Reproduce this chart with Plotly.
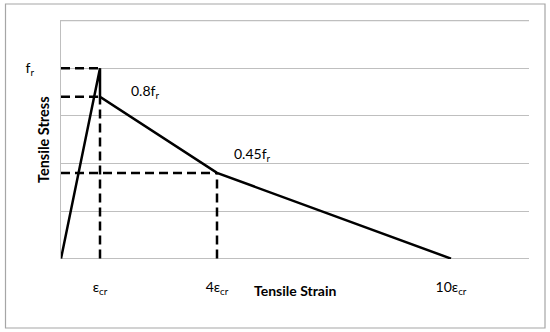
import plotly.graph_objects as go

# Data (strain in multiples of eps_cr, stress in multiples of f_r)
strain = [0, 1, 1, 4, 10]
stress = [0, 1.0, 0.85, 0.45, 0]

# Reference (dashed) guide points
guide_pts_x = [1, 1, 4]
guide_pts_y = [1.0, 0.85, 0.45]

y_tickvals = [0, 0.25, 0.5, 0.75, 1.0, 1.25]
y_ticktext = ["", "", "", "", "f<sub>r</sub>", ""]
x_tickvals = [1, 4, 10]
x_ticktext = ["ε<sub>cr</sub>", "4ε<sub>cr</sub>", "10ε<sub>cr</sub>"]

point_labels = ["0.8f<sub>r</sub>", "0.45f<sub>r</sub>"]
label_x = [2.15, 4.9]
label_y = [0.88, 0.545]

FONT = "Lato, Open Sans, sans-serif"
GRID = "#bfbfbf"

fig = go.Figure()

dash = dict(color="black", width=2.5, dash="9px,5px")
# horizontal dashed guides
for gx, gy in zip(guide_pts_x, guide_pts_y):
    fig.add_trace(go.Scatter(x=[0, gx], y=[gy, gy], mode="lines", line=dash,
                             showlegend=False, hoverinfo="skip"))
# vertical dashed guides
fig.add_trace(go.Scatter(x=[guide_pts_x[1], guide_pts_x[1]], y=[0, guide_pts_y[1]],
                         mode="lines", line=dash, showlegend=False, hoverinfo="skip"))
fig.add_trace(go.Scatter(x=[guide_pts_x[2], guide_pts_x[2]], y=[0, guide_pts_y[2]],
                         mode="lines", line=dash, showlegend=False, hoverinfo="skip"))

fig.add_trace(go.Scatter(x=strain, y=stress, mode="lines",
                         line=dict(color="black", width=2.5),
                         showlegend=False, hoverinfo="skip"))

for t, lx, ly in zip(point_labels, label_x, label_y):
    fig.add_annotation(x=lx, y=ly, text=t, showarrow=False, xanchor="center",
                       font=dict(size=14, color="black", family=FONT))

fig.add_annotation(xref="paper", yref="paper", x=(295 - 61) / 468, y=(259 - 301) / 239,
                   text="<b>Tensile Strain</b>", showarrow=False,
                   font=dict(size=14, color="black", family=FONT))
fig.add_annotation(xref="paper", yref="paper", x=(33 - 61) / 468, y=0.5,
                   text="<b>Tensile Stress</b>", showarrow=False, textangle=-90,
                   font=dict(size=14.5, color="black", family=FONT))

# edge gridlines (first and last tick values)
for gv in (y_tickvals[0], y_tickvals[-1]):
    fig.add_shape(type="line", xref="paper", yref="y", x0=0, x1=1, y0=gv, y1=gv,
                  line=dict(color=GRID, width=1.2), layer="below")

# outer chart border
fig.add_shape(type="rect", xref="paper", yref="paper",
              x0=(5.5 - 61) / 468, x1=(545 - 61) / 468,
              y0=(259 - 328) / 239, y1=(259 - 4) / 239,
              line=dict(color="#a6a6a6", width=1.2), layer="below")

fig.update_layout(
    width=550, height=332,
    margin=dict(l=61, r=21, t=20, b=73, autoexpand=False),
    paper_bgcolor="white", plot_bgcolor="white",
    font=dict(family=FONT, size=14, color="black"),
    xaxis=dict(range=[0, 12], tickvals=x_tickvals, ticktext=x_ticktext,
               showgrid=False, zeroline=False, showline=False, automargin=False,
               ticks="", ticklabelstandoff=18),
    yaxis=dict(range=[-0.002, 1.253], tickvals=y_tickvals, ticktext=y_ticktext,
               showgrid=True, gridcolor=GRID, gridwidth=1.2, automargin=False,
               zeroline=False, showline=True, linecolor=GRID, linewidth=1.2,
               ticks="", ticklabelstandoff=23),
)

fig.write_html("out.html", config={"displayModeBar": False},
               post_script="document.body.style.margin='0';")
